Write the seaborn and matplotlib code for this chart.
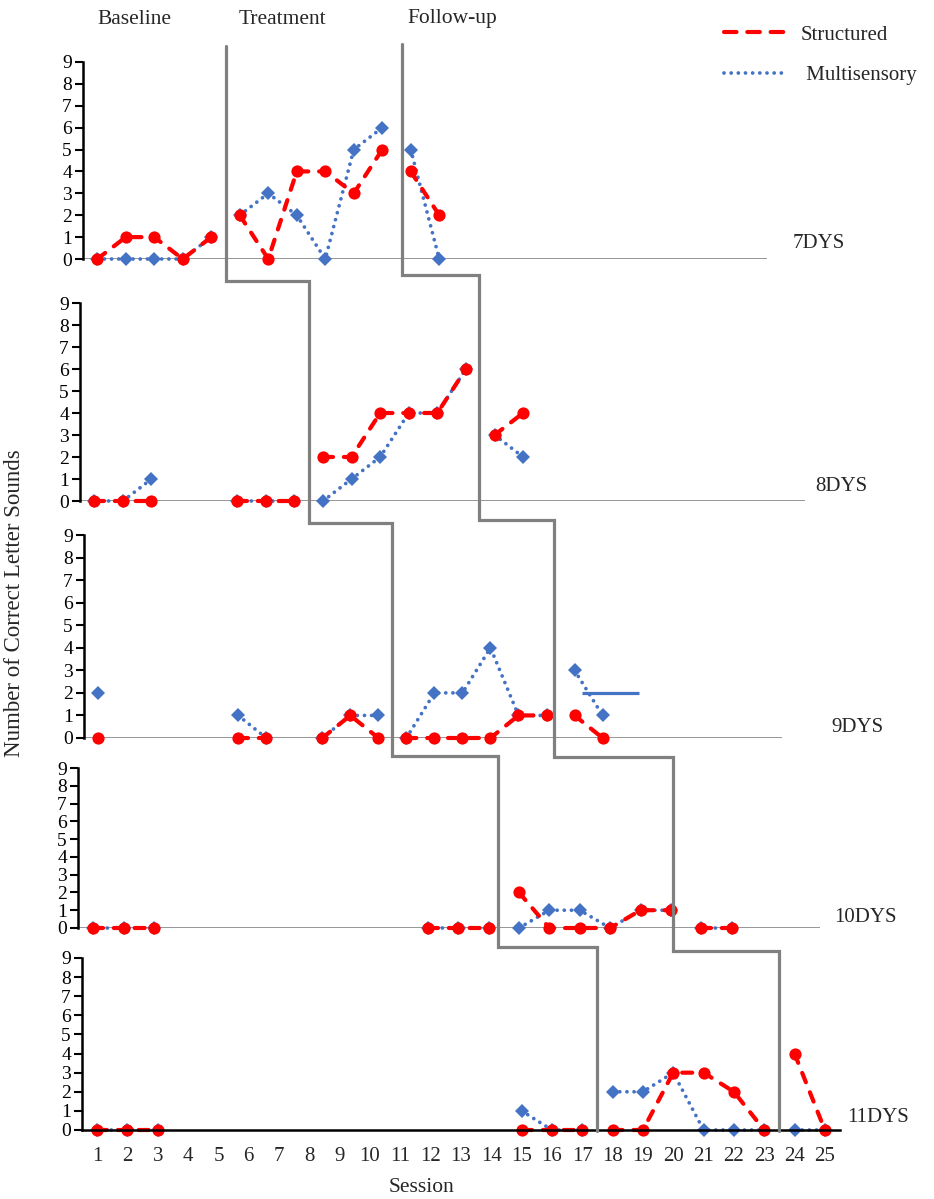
import matplotlib
matplotlib.use("Agg")
import matplotlib.pyplot as plt
import numpy as np
import pandas as pd
import seaborn as sns
from matplotlib.lines import Line2D

# %% data (one block per participant)
participants = ["7DYS", "8DYS", "9DYS", "10DYS", "11DYS"]

sessions_7 = [1, 2, 3, 4, 5, 6, 7, 8, 9, 10, 11, 12, 13]
structured_7 = [0, 1, 1, 0, 1, 2, 0, 4, 4, 3, 5, 4, 2]
multisensory_7 = [0, 0, 0, 0, 1, 2, 3, 2, 0, 5, 6, 5, 0]
phase_7 = [5.5, 11.7]

sessions_8 = [1, 2, 3, 6, 7, 8, 9, 10, 11, 12, 13, 14, 15, 16]
structured_8 = [0, 0, 0, 0, 0, 0, 2, 2, 4, 4, 4, 6, 3, 4]
multisensory_8 = [0, 0, 1, 0, 0, 0, 0, 1, 2, 4, 4, 6, 3, 2]
phase_8 = [8.5, 14.45]

sessions_9 = [1, 6, 7, 9, 10, 11, 12, 13, 14, 15, 16, 17, 18, 19]
structured_9 = [0, 0, 0, 0, 1, 0, 0, 0, 0, 0, 1, 1, 1, 0]
multisensory_9 = [2, 1, 0, 0, 1, 1, 0, 2, 2, 4, 1, 1, 3, 1]
phase_9 = [11.5, 17.25]
stray_9 = (2, 18.25, 20.3)  # stray blue bar in the 9DYS panel

sessions_10 = [1, 2, 3, 12, 13, 14, 15, 16, 17, 18, 19, 20, 21, 22]
structured_10 = [0, 0, 0, 0, 0, 0, 2, 0, 0, 0, 1, 1, 0, 0]
multisensory_10 = [0, 0, 0, 0, 0, 0, 0, 1, 1, 0, 1, 1, 0, 0]
phase_10 = [14.3, 20.07]

sessions_11 = [1, 2, 3, 15, 16, 17, 18, 19, 20, 21, 22, 23, 24, 25]
structured_11 = [0, 0, 0, 0, 0, 0, 0, 0, 3, 3, 2, 0, 4, 0]
multisensory_11 = [0, 0, 0, 1, 0, 0, 2, 2, 3, 0, 0, 0, 0, 0]
phase_11 = [17.5, 23.5]

session_ticks = list(range(1, 26))
phase_names = ["Baseline", "Treatment", "Follow-up"]

all_sessions = [sessions_7, sessions_8, sessions_9, sessions_10, sessions_11]
all_structured = [structured_7, structured_8, structured_9, structured_10, structured_11]
all_multi = [multisensory_7, multisensory_8, multisensory_9, multisensory_10, multisensory_11]
all_phase = [phase_7, phase_8, phase_9, phase_10, phase_11]

# %% style
sns.set_theme(style="white")
plt.rcParams["font.family"] = ["Liberation Serif", "DejaVu Serif"]

red = "#FF0000"
blue = "#4472C4"
grey = "#808080"
red_ls = (0, (2.4, 2.6))
blue_ls = (0, (0.01, 1.9))

W, H = 934, 1199
fig = plt.figure(figsize=(W / 100, H / 100), dpi=100)


def box(left, top, right, bottom):
    return [left / W, 1 - bottom / H, (right - left) / W, (bottom - top) / H]


# panel boxes in pixels and x-limits (the original panels are not aligned)
boxes = [
    box(83, 62, 767, 259),
    box(80, 303, 805, 501),
    box(84, 535, 782, 738),
    box(78, 768, 820, 928),
    box(82, 958, 840, 1130),
]
xlims = [(0.5, 24.5), (0.5, 25.86), (0.5, 25.4), (0.5, 24.9), (0.5, 25.5)]
label_pos = [(793, 243), (815, 487), (831, 727), (834, 918), (847, 1117)]

axes = []
for i, name in enumerate(participants):
    ax = fig.add_axes(boxes[i])
    axes.append(ax)
    s = np.array(all_sessions[i])
    phase_idx = np.searchsorted(all_phase[i], s)
    brk = np.r_[False, (np.diff(s) > 1) | (np.diff(phase_idx) != 0)]
    seg = np.cumsum(brk)
    df = pd.DataFrame({"session": s, "segment": seg,
                       "Structured": all_structured[i],
                       "Multisensory": all_multi[i]})

    sns.lineplot(data=df, x="session", y="Multisensory", units="segment",
                 estimator=None, sort=False, color=blue, marker="D",
                 markersize=7.4, markeredgewidth=0, linewidth=2.7,
                 linestyle=blue_ls, dash_capstyle="round",
                 clip_on=False, ax=ax)
    sns.lineplot(data=df, x="session", y="Structured", units="segment",
                 estimator=None, sort=False, color=red, marker="o",
                 markersize=8.8, markeredgewidth=0, linewidth=3.0,
                 linestyle=red_ls, dash_capstyle="round",
                 clip_on=False, ax=ax)

    ax.set_xlim(*xlims[i])
    ax.set_ylim(0, 9)
    ax.set_yticks(range(10))
    ax.tick_params(axis="y", direction="out", length=6, width=1.5, pad=2,
                   labelsize=14, left=True, colors="black")
    for side in ["top", "right"]:
        ax.spines[side].set_visible(False)
    ax.spines["left"].set_color("black")
    ax.spines["left"].set_linewidth(1.8)
    ax.set_xlabel("")
    ax.set_ylabel("")
    if i < 4:
        ax.spines["bottom"].set_visible(False)
        ax.axhline(0, color="#7a7a7a", linewidth=1.1, zorder=0)
        ax.set_xticks([])
    else:
        ax.spines["bottom"].set_color("black")
        ax.spines["bottom"].set_linewidth(1.8)
        ax.set_xticks(session_ticks)
        ax.tick_params(axis="x", length=0, pad=12, labelsize=15)
    ax.patch.set_alpha(0)
    fig.text(label_pos[i][0] / W, 1 - label_pos[i][1] / H, name,
             ha="left", va="center", fontsize=15)

# stray blue bar in the 9DYS panel
axes[2].hlines(stray_9[0], stray_9[1], stray_9[2], color=blue, linewidth=2.3)

# %% phase-change staircase lines
joints = [
    (46, [281, 523, 756, 947], 1131),
    (44, [275, 520, 757, 951], 1131),
]
inv = fig.transFigure.inverted()
for k, (top, mids, bottom) in enumerate(joints):
    xs = [inv.transform(axes[i].transData.transform((all_phase[i][k], 0)))[0]
          for i in range(5)]
    ys_px = [top] + mids + [bottom]
    px_x, px_y = [], []
    for i in range(5):
        px_x += [xs[i], xs[i]]
        px_y += [1 - ys_px[i] / H, 1 - ys_px[i + 1] / H]
    fig.add_artist(Line2D(px_x, px_y, color=grey, linewidth=2.3,
                          transform=fig.transFigure, solid_joinstyle="miter"))

# %% texts
for name, x in zip(phase_names, [134, 282, 452]):
    fig.text(x / W, 1 - 19 / H, name, ha="center", va="center", fontsize=15.5)

fig.text(15 / W, 1 - 603 / H, "Number of Correct Letter Sounds", rotation=90,
         ha="center", va="center", fontsize=16.5)
fig.text(422 / W, 1 - 1188 / H, "Session", ha="center", va="center", fontsize=15.5)

handles = [
    Line2D([], [], color=red, linewidth=3.0, linestyle=(0, (3.0, 2.6)),
           dash_capstyle="round"),
    Line2D([], [], color=blue, linewidth=2.7, linestyle=blue_ls,
           dash_capstyle="round"),
]
fig.legend(handles, ["Structured", " Multisensory"], loc="upper left",
           bbox_to_anchor=(724 / W, 1 - 25 / H), frameon=False, borderpad=0,
           borderaxespad=0, handlelength=3.0, handletextpad=0.7,
           labelspacing=1.0, fontsize=15)

fig.savefig("out.png", dpi=100)
